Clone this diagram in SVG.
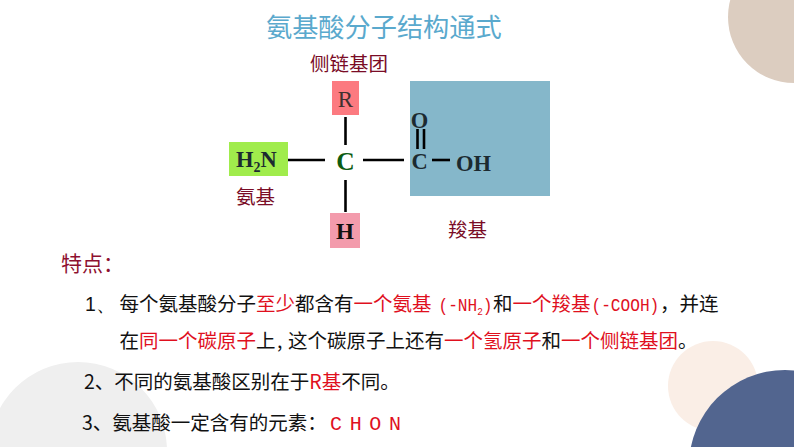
<svg xmlns="http://www.w3.org/2000/svg" width="794" height="447" viewBox="0 0 794 447">
<style>
.cjk{font-family:"Noto Sans CJK SC","Noto Sans",sans-serif}
.dark{fill:#7a0c26;font-size:19.5px;font-family:"Noto Sans CJK SC",sans-serif}
.f{font-family:"Liberation Serif",serif;font-weight:bold;fill:#1c2a30;font-size:22.5px}
.t{font-family:"Noto Sans CJK SC",sans-serif;font-size:19.5px;fill:#111}
.r{fill:#e0101e}
.m{font-family:"Liberation Mono",monospace}
.b{stroke:#000;stroke-width:2.6;fill:none}
</style>
<rect width="794" height="447" fill="#fff"/>
<g id="decor">
<circle cx="794" cy="17" r="66" fill="#dccdc0"/>
<circle cx="78" cy="451" r="89" fill="#efefef"/>
<circle cx="713" cy="386" r="45" fill="#faeee6"/>
<circle cx="785" cy="466" r="96" fill="#52658f"/>
</g>
<text id="title" x="266" y="37" class="cjk" font-size="26.200" fill="#5aa9cd">氨基酸分子结构通式</text>
<g id="node-carboxyl-box"><rect x="410" y="81" width="140" height="115" fill="#85b7ca"/></g>
<g id="node-r"><rect x="332" y="81" width="27" height="34" fill="#fc7a80"/><text x="345.500" y="107" text-anchor="middle" style="font-family:'Liberation Serif',serif;font-size:23px;fill:#40302f">R</text></g>
<g id="node-nh2"><rect x="229" y="142" width="59" height="34" fill="#a0ec4c"/><text x="236" y="167" class="f">H<tspan font-size="14" dy="5">2</tspan><tspan dy="-5">N</tspan></text></g>
<g id="node-c"><text x="345.500" y="170" text-anchor="middle" style="font-family:'Liberation Serif',serif;font-weight:bold;font-size:25.500px;fill:#0d5c12">C</text></g>
<g id="node-h"><rect x="330" y="213" width="30" height="35" fill="#f39bac"/><text x="345" y="239" text-anchor="middle" style="font-family:'Liberation Serif',serif;font-weight:bold;font-size:23px;fill:#111">H</text></g>
<g id="node-cooh">
<text x="419.500" y="128" text-anchor="middle" class="f">O</text>
<text x="419.500" y="169" text-anchor="middle" class="f">C</text>
<text x="456" y="171" class="f">OH</text>
</g>
<g id="connectors" class="b">
<line x1="345.500" y1="117" x2="345.500" y2="145"/>
<line x1="345.500" y1="180" x2="345.500" y2="212"/>
<line x1="288" y1="160" x2="325" y2="160"/>
<line x1="363" y1="160" x2="404" y2="160"/>
<line x1="417.500" y1="129" x2="417.500" y2="149"/>
<line x1="424" y1="129" x2="424" y2="149"/>
<line x1="432" y1="160" x2="450" y2="160"/>
</g>
<g class="dark">
<text x="310" y="71">侧链基团</text>
<text x="236" y="204">氨基</text>
<text x="448" y="237">羧基</text>
</g>
<text x="61" y="271" class="cjk" font-size="21" fill="#8e1030">特点：</text>
<g id="text-body" class="t">
<text x="85" y="311" style="font-family:'Liberation Sans',sans-serif;font-size:19.500px">1、</text>
<text x="119.500" y="311">每个氨基酸分子<tspan class="r">至少</tspan>都含有<tspan class="r">一个氨基</tspan></text>
<text transform="translate(438.500 311) scale(.85 1)" class="r m" font-size="19">(-NH<tspan font-size="11" dy="4">2</tspan><tspan dy="-4">)</tspan></text>
<text x="493" y="311">和<tspan class="r">一个羧基</tspan></text>
<text transform="translate(591.500 311) scale(.85 1)" class="r m" font-size="19">(-COOH)</text>
<text x="660" y="311">，并连</text>
<text x="119.500" y="348">在<tspan class="r">同一个碳原子</tspan>上</text>
<text x="277" y="348">,</text>
<text x="288" y="348">这个碳原子上还有<tspan class="r">一个氢原子</tspan>和<tspan class="r">一个侧链基团</tspan>。</text>
<text x="84" y="389">2、不同的氨基酸区别在于<tspan class="r">R基</tspan>不同。</text>
<text x="82" y="430">3、氨基酸一定含有的元素：</text>
<text x="330" y="430" class="r m" font-size="20" textLength="71" lengthAdjust="spacing">C H O N</text>
</g>
</svg>
